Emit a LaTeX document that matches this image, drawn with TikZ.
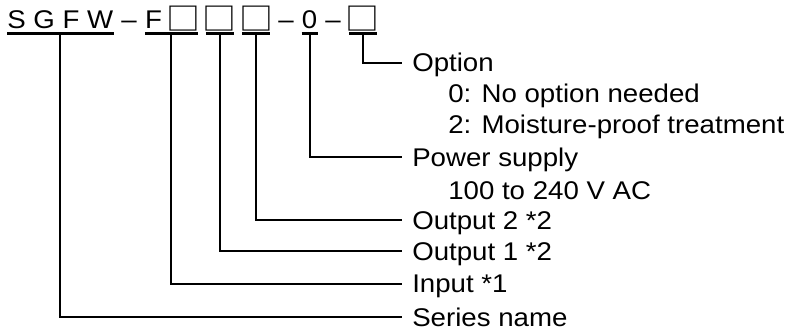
\documentclass[tikz,border=0pt]{standalone}
\usepackage{fontspec}
\setmainfont{Liberation Sans}[FakeStretch=1.08]
\newfontfamily\cjk{Noto Sans CJK JP}[FakeStretch=1.08]
\usetikzlibrary{positioning}
\newcommand{\sq}{\makebox[20.74pt]{\raisebox{-1.4pt}{\cjk\fontsize{23.5}{23.5}\selectfont □}}}
\tikzset{
  every node/.style={font=\fontsize{19.2}{23}\selectfont},
  code/.style={inner sep=0pt, text height=13.75pt, text depth=3.2pt},
  bar/.style={line width=2.5pt},
  lead/.style={line width=1.5pt},
  label/.style={anchor=west, inner xsep=7.5pt, inner ysep=0pt, text height=13.75pt, text depth=0pt},
}
\begin{document}
\begin{tikzpicture}[x=0.75pt,y=-0.75pt]
  \useasboundingbox (0,0) rectangle (789,330);
  % model code
  \node[code, anchor=base west] (series) at (7,28.7) {S G F W};
  \node[code, right=0pt of series] (dash1) {\ –\ \null};
  \node[code, right=0pt of dash1] (input) {F\ \sq};
  \node[code, right=0pt of input] (gap1) {\ \null};
  \node[code, right=0pt of gap1] (out1) {\sq};
  \node[code, right=0pt of out1] (gap2) {\ \null};
  \node[code, right=0pt of gap2] (out2) {\sq};
  \node[code, right=0pt of out2] (dash2) {\ –\ \null};
  \node[code, right=0pt of dash2] (power) {0};
  \node[code, right=0pt of power] (dash3) {\ –\ \null};
  \node[code, right=0pt of dash3] (option) {\sq};
  % explanations
  \node[label] (optname) at (402,62.5) {Option};
  \node[label] (opt0) at (438,93) {0: No option needed};
  \node[label] (opt2) at (438,124.5) {2: Moisture-proof treatment};
  \node[label] (powname) at (402,157) {Power supply};
  \node[label] (powrange) at (438,190) {100 to 240 V AC};
  \node[label] (out2name) at (402,220) {Output 2 *2};
  \node[label] (out1name) at (402,251) {Output 1 *2};
  \node[label] (inname) at (402,283.5) {Input *1};
  \node[label] (seriesname) at (402,317) {Series name};
  % underlines and leaders
  \foreach \g in {series,input,out1,out2,power,option}
    \draw[bar] (\g.south west) -- (\g.south east);
  \foreach \from/\to in {series/seriesname, input/inname, out1/out1name,
                         out2/out2name, power/powname, option/optname}
    \draw[lead] (\from.south) |- (\to.west);
\end{tikzpicture}
\end{document}
